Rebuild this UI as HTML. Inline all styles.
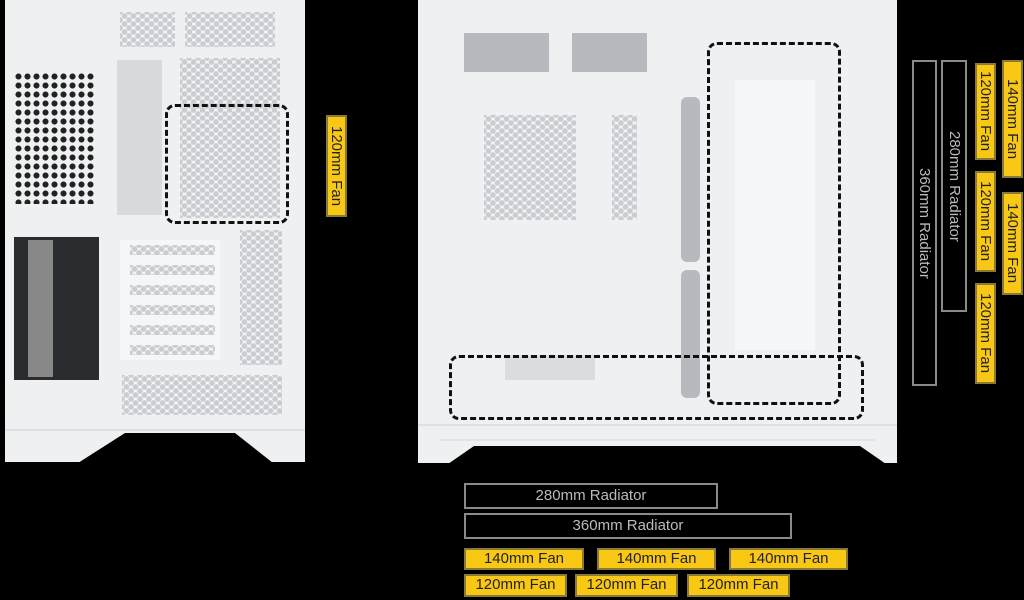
<!DOCTYPE html>
<html><head><meta charset="utf-8"><style>
body{margin:0;width:1024px;height:600px;background:#000;position:relative;overflow:hidden;font-family:"Liberation Sans",sans-serif}
div{position:absolute;box-sizing:border-box}
.w{background:#eef0f2}
.hex{background-color:#f4f5f6;background-image:radial-gradient(circle,#c9cdd2 2.6px,transparent 3px),radial-gradient(circle,#c9cdd2 2.6px,transparent 3px);background-size:9px 8px;background-position:0 0,4.5px 4px}
.dark{background-image:radial-gradient(circle,#222 2.8px,transparent 3.2px);background-size:9px 9px;background-color:#eef0f2}
.dash{border:3px dashed #111;border-radius:10px}
.y{background:#f8c815;border:2px solid #8a7a3a;color:#222;font-size:15px;text-align:center;line-height:18px;white-space:nowrap}
.r{border:2px solid #8a8a8a;color:#bbb;font-size:15px;text-align:center;line-height:21px;white-space:nowrap}
.v{writing-mode:vertical-rl}
.g{background:#b6b9bd}
</style></head><body>
<div class="w" style="left:5px;top:0;width:300px;height:462px"></div>
<div class="w" style="left:418px;top:0;width:479px;height:463px"></div>
<svg style="position:absolute;left:0;top:0" width="1024" height="600">
<polygon points="125,433 235,433 273,463 78,463" fill="#000"/>
<polygon points="474,446 860,446 886,464 448,464" fill="#000"/>
<line x1="5" y1="430" x2="305" y2="430" stroke="#cfd2d6"/>
<line x1="418" y1="425" x2="897" y2="425" stroke="#cfd2d6"/>
<line x1="440" y1="440" x2="875" y2="440" stroke="#d5d7da"/>
</svg>
<div class="hex" style="left:120px;top:12px;width:55px;height:35px"></div>
<div class="hex" style="left:185px;top:12px;width:90px;height:35px"></div>
<div class="hex" style="left:180px;top:58px;width:100px;height:160px"></div>
<div style="left:117px;top:60px;width:45px;height:155px;background:#d8dadd"></div>
<div class="dark" style="left:14px;top:72px;width:82px;height:132px"></div>
<div style="left:14px;top:237px;width:85px;height:143px;background:#2a2c30"></div>
<div style="left:28px;top:240px;width:25px;height:137px;background:#888"></div>
<div style="left:120px;top:240px;width:100px;height:120px;background:#f5f6f7"></div>
<div class="hex" style="left:130px;top:245px;width:85px;height:10px"></div>
<div class="hex" style="left:130px;top:265px;width:85px;height:10px"></div>
<div class="hex" style="left:130px;top:285px;width:85px;height:10px"></div>
<div class="hex" style="left:130px;top:305px;width:85px;height:10px"></div>
<div class="hex" style="left:130px;top:325px;width:85px;height:10px"></div>
<div class="hex" style="left:130px;top:345px;width:85px;height:10px"></div>
<div class="hex" style="left:240px;top:230px;width:42px;height:135px"></div>
<div class="hex" style="left:122px;top:375px;width:160px;height:40px"></div>
<div class="dash" style="left:165px;top:104px;width:124px;height:120px"></div>
<div class="g" style="left:464px;top:33px;width:85px;height:39px"></div>
<div class="g" style="left:572px;top:33px;width:75px;height:39px"></div>
<div class="hex" style="left:484px;top:115px;width:92px;height:105px"></div>
<div class="hex" style="left:612px;top:115px;width:25px;height:105px"></div>
<div class="g" style="left:681px;top:97px;width:19px;height:165px;border-radius:6px"></div>
<div class="g" style="left:681px;top:270px;width:19px;height:128px;border-radius:6px"></div>
<div style="left:735px;top:80px;width:80px;height:270px;background:#f6f7f8"></div>
<div style="left:505px;top:355px;width:90px;height:25px;background:#dadcdf"></div>
<div class="dash" style="left:707px;top:42px;width:134px;height:363px"></div>
<div class="dash" style="left:449px;top:355px;width:415px;height:65px"></div>
<div class="y v" style="left:326px;top:115px;width:21px;height:102px">120mm Fan</div>
<div class="r v" style="left:912px;top:60px;width:25px;height:326px;line-height:21px">360mm Radiator</div>
<div class="r v" style="left:941px;top:60px;width:26px;height:252px;line-height:22px">280mm Radiator</div>
<div class="y v" style="left:975px;top:63px;width:21px;height:97px">120mm Fan</div>
<div class="y v" style="left:975px;top:171px;width:21px;height:101px">120mm Fan</div>
<div class="y v" style="left:975px;top:283px;width:21px;height:101px">120mm Fan</div>
<div class="y v" style="left:1002px;top:60px;width:21px;height:118px">140mm Fan</div>
<div class="y v" style="left:1002px;top:192px;width:21px;height:103px">140mm Fan</div>
<div class="r" style="left:464px;top:483px;width:254px;height:26px">280mm Radiator</div>
<div class="r" style="left:464px;top:513px;width:328px;height:26px">360mm Radiator</div>
<div class="y" style="left:464px;top:548px;width:120px;height:22px">140mm Fan</div>
<div class="y" style="left:597px;top:548px;width:119px;height:22px">140mm Fan</div>
<div class="y" style="left:729px;top:548px;width:119px;height:22px">140mm Fan</div>
<div class="y" style="left:464px;top:574px;width:103px;height:23px">120mm Fan</div>
<div class="y" style="left:575px;top:574px;width:103px;height:23px">120mm Fan</div>
<div class="y" style="left:687px;top:574px;width:103px;height:23px">120mm Fan</div>
</body></html>
